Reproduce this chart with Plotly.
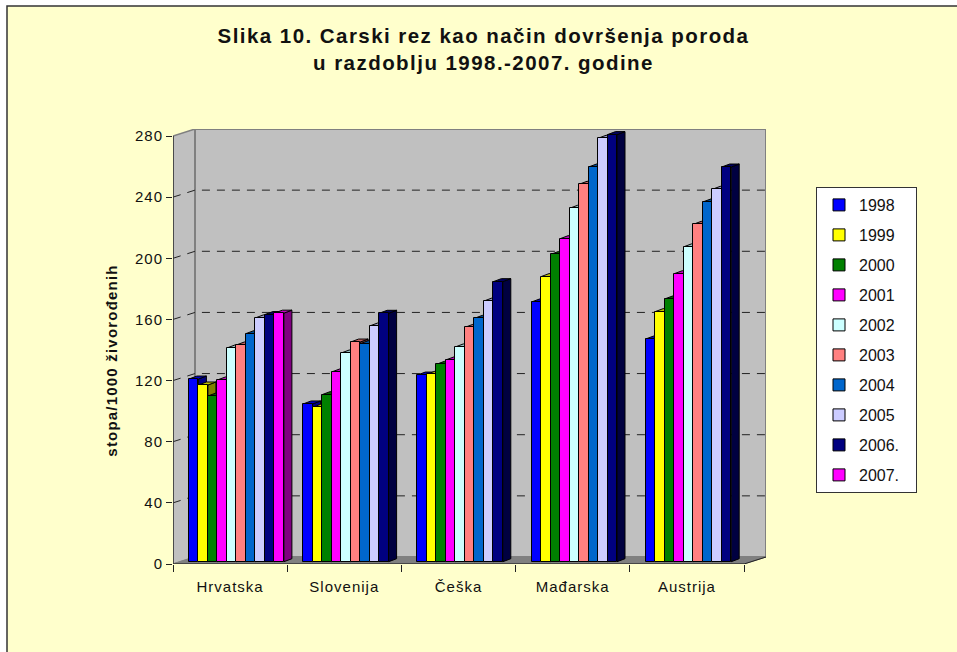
import plotly.graph_objects as go

# ---- data ----
categories = ["Hrvatska", "Slovenija", "Češka", "Mađarska", "Austrija"]
years = ["1998", "1999", "2000", "2001", "2002", "2003", "2004", "2005", "2006.", "2007."]
y1998 = [119.5, 103.2, 122.1, 169.9, 145.7]
y1999 = [115.6, 101.0, 122.6, 186.5, 163.6]
y2000 = [108.4, 109.3, 129.1, 201.0, 171.9]
y2001 = [118.9, 124.1, 132.0, 211.3, 188.4]
y2002 = [139.8, 136.5, 140.5, 231.2, 206.0]
y2003 = [141.8, 143.7, 153.3, 246.9, 220.7]
y2004 = [149.2, 142.6, 159.2, 258.2, 235.3]
y2005 = [159.5, 154.2, 170.5, 277.0, 243.6]
y2006 = [161.7, 162.5, 183.2, 279.4, 258.2]
y2007 = [162.6, None, None, None, None]
series = [y1998, y1999, y2000, y2001, y2002, y2003, y2004, y2005, y2006, y2007]
front_colors = ["#0000FF", "#FFFF00", "#008000", "#FF00FF", "#CCFFFF",
                "#FF8080", "#0066CC", "#CCCCFF", "#000080", "#FF00FF"]
top_colors = ["#0000C0", "#C0C000", "#006000", "#C000C0", "#99C0C0",
              "#C06060", "#004D99", "#9999C0", "#000060", "#C000C0"]
side_colors = ["#000080", "#808000", "#004000", "#800080", "#668080",
               "#804040", "#003366", "#666680", "#000040", "#800080"]
y_ticks = [0, 40, 80, 120, 160, 200, 240, 280]

# ---- geometry in axis units ----
WALL_DX = 22 / 114.2
WALL_DY = 7 / 1.5286
BAR_W = 9.5 / 114.2
BAR_START = 15.9 / 114.2
BAR_DX = 8 / 114.2
BAR_DY = 3 / 1.5286
BAR_BASE = 1.5
NCAT = len(categories)
XMAX = NCAT + WALL_DX
YMAX = 280 + WALL_DY

fig = go.Figure()

# dashed grid on the walls
gx, gy = [], []
for t in y_ticks[1:-1]:
    gx += [0, WALL_DX, XMAX, None]
    gy += [t, t + WALL_DY, t + WALL_DY, None]
fig.add_trace(go.Scatter(x=gx, y=gy, mode="lines", showlegend=False, hoverinfo="skip",
                         line=dict(color="#222222", width=1, dash="8px,7px")))

# top and side faces (primary axes, below the front faces)
for s, vals in enumerate(series):
    sx, sy, tx, ty = [], [], [], []
    for c, v in enumerate(vals):
        if v is None:
            continue
        L = c + BAR_START + s * BAR_W
        R = L + BAR_W
        t = v + BAR_BASE
        sx += [R, R + BAR_DX, R + BAR_DX, R, R, None]
        sy += [BAR_BASE, BAR_BASE + BAR_DY, t + BAR_DY, t, BAR_BASE, None]
        tx += [L, L + BAR_DX, R + BAR_DX, R, L, None]
        ty += [t, t + BAR_DY, t + BAR_DY, t, t, None]
    fig.add_trace(go.Scatter(x=sx, y=sy, mode="lines", fill="toself", fillcolor=side_colors[s],
                             line=dict(color="#000000", width=1), showlegend=False, hoverinfo="skip"))
    fig.add_trace(go.Scatter(x=tx, y=ty, mode="lines", fill="toself", fillcolor=top_colors[s],
                             line=dict(color="#000000", width=1), showlegend=False, hoverinfo="skip"))

# front faces (overlay axes, painted above the polygons)
for s, vals in enumerate(series):
    fig.add_trace(go.Bar(
        x=[c + BAR_START + (s + 0.5) * BAR_W for c in range(NCAT)],
        y=vals, base=BAR_BASE, width=BAR_W, name=years[s],
        marker=dict(color=front_colors[s], line=dict(color="#000000", width=1)),
        xaxis="x2", yaxis="y2", legendgroup=years[s],
    ))

FONT = "Liberation Sans, Arial, sans-serif"
shapes = [
    # chart frame (right and bottom edges run off the page)
    dict(type="rect", xref="paper", yref="paper", x0=(7-173)/593, x1=(965-173)/593,
         y0=(564-660)/435, y1=(564-6)/435, fillcolor="#FFFFCC",
         line=dict(color="#333333", width=1.5), layer="below"),
    # left wall
    dict(type="path", xref="x", yref="y", layer="below", fillcolor="#C0C0C0",
         path=f"M0,0 L{WALL_DX},{WALL_DY} L{WALL_DX},{YMAX} L0,280 Z",
         line=dict(color="#808080", width=1.5)),
    # back wall
    dict(type="rect", xref="x", yref="y", layer="below", fillcolor="#C0C0C0",
         x0=WALL_DX, x1=XMAX, y0=WALL_DY, y1=YMAX, line=dict(color="#808080", width=2)),
    # floor
    dict(type="path", xref="x", yref="y", layer="below", fillcolor="#808080",
         path=f"M0,0 L{WALL_DX},{WALL_DY} L{XMAX},{WALL_DY} L{NCAT},0 Z",
         line=dict(color="#808080", width=1)),
    # right end of the floor edge
    dict(type="line", xref="x", yref="y", x0=NCAT, x1=XMAX, y0=0, y1=WALL_DY,
         line=dict(color="#222222", width=1), layer="below"),
    # axis lines on the front edge
    dict(type="line", xref="x", yref="y", x0=0, x1=0, y0=0, y1=280,
         line=dict(color="#333333", width=1.5)),
    dict(type="line", xref="x", yref="y", x0=0, x1=NCAT, y0=0, y1=0,
         line=dict(color="#333333", width=1.5)),
]

fig.update_layout(
    width=957, height=652, autosize=False,
    margin=dict(l=173, r=191, t=129, b=88, pad=0),
    paper_bgcolor="#FFFFFF", plot_bgcolor="rgba(0,0,0,0)",
    font=dict(family=FONT, color="#111111", size=15),
    shapes=shapes, barmode="overlay", bargap=0,
    title=dict(text="<b>Slika 10. Carski rez kao način dovršenja poroda<br>u razdoblju 1998.-2007. godine</b>",
               x=483.5/957, xanchor="center", y=1-43/652, yanchor="top",
               font=dict(size=20.5, color="#111111", family=FONT)),
    xaxis=dict(range=[0, XMAX], tickvals=list(range(NCAT + 1)), ticktext=[""] * (NCAT + 1),
               ticks="outside", ticklen=7, tickcolor="#222222", tickwidth=1,
               showgrid=False, zeroline=False, showline=False, fixedrange=True),
    yaxis=dict(range=[0, YMAX], tickvals=y_ticks, ticks="outside", ticklen=6,
               tickcolor="#222222", tickwidth=1, showgrid=False, zeroline=False,
               showline=False, fixedrange=True, tickfont=dict(size=15, family=FONT),
               title=dict(text="<b>stopa/1000 živorođenih</b>", standoff=10,
                          font=dict(size=15, family=FONT, color="#111111"))),
    xaxis2=dict(range=[0, XMAX], overlaying="x", side="bottom", anchor="y2",
                tickvals=[c + 0.5 for c in range(NCAT)], ticktext=categories,
                ticks="", ticklabelstandoff=12, tickfont=dict(size=15, family=FONT),
                showgrid=False, zeroline=False, showline=False, fixedrange=True),
    yaxis2=dict(range=[0, YMAX], overlaying="y", anchor="x2", visible=False, fixedrange=True),
    legend=dict(x=816/957, xref="container", y=1-187/652, yref="container",
                xanchor="left", yanchor="top", bgcolor="#FFFFFF", maxheight=340,
                bordercolor="#333333", borderwidth=1, tracegroupgap=6.2, indentation=2,
                font=dict(size=16, family=FONT, color="#111111"),
                itemclick=False, itemdoubleclick=False, traceorder="grouped",
                entrywidth=65, entrywidthmode="pixels"),
)

CSS = (".gtitle{letter-spacing:1.45px}"
       ".ytitle{letter-spacing:1.2px}"
       ".g-ytitle{transform:translate(-6px,14px)}"
       ".legend .bg{width:100px}"
       ".xtick text,.x2tick text,.ytick text{letter-spacing:1px}")
fig.write_html(
    "out.html",
    config={"displayModeBar": False},
    post_script=(
        "document.body.style.margin='0';"
        "var s=document.createElement('style');s.textContent='" + CSS + "';"
        "document.head.appendChild(s);"
    ),
)
